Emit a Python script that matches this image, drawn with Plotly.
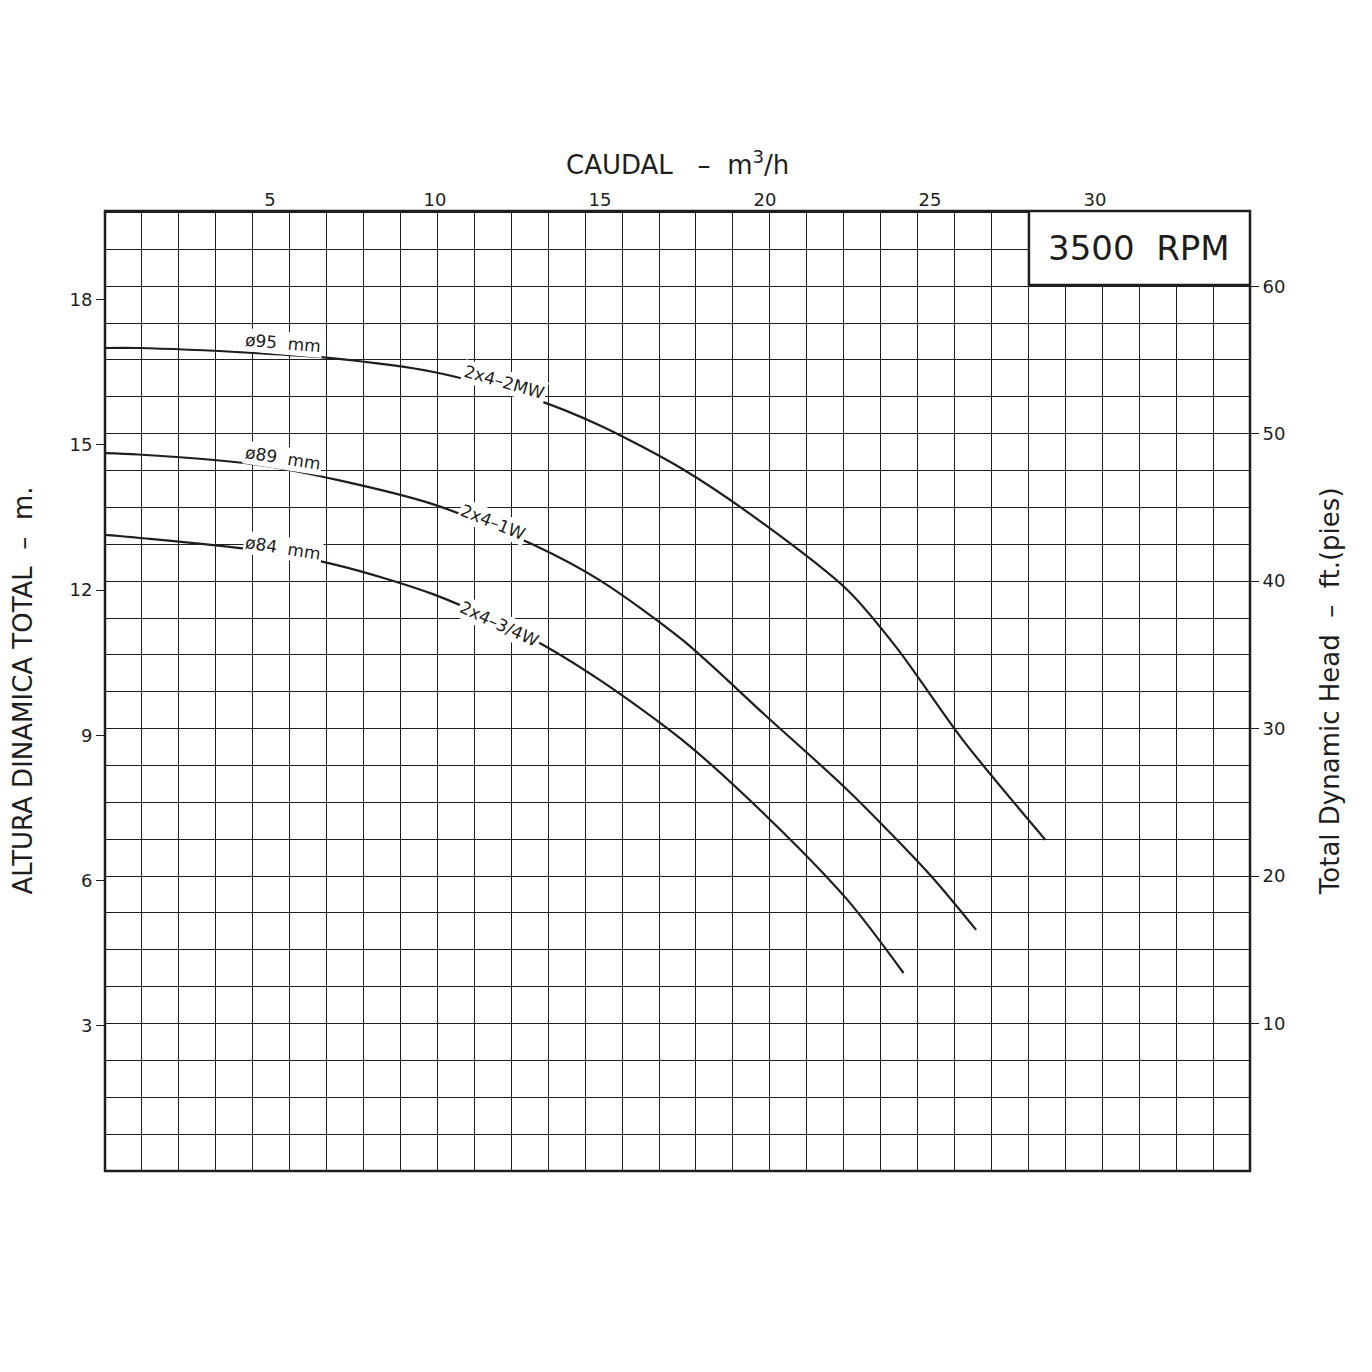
import plotly.graph_objects as go

# flow m3/h, head m
q95 = [0, 1, 4.5, 6.7, 10, 13, 15, 17.5, 20, 22.5, 24, 26, 28.5]
h95 = [17.0, 17.0, 16.9, 16.8, 16.5, 15.95, 15.4, 14.5, 13.35, 12.0, 10.8, 8.9, 6.84]
q89 = [0, 1, 4.5, 7, 10, 13, 15, 17.5, 20, 22.5, 25, 26.4]
h89 = [14.83, 14.8, 14.6, 14.28, 13.76, 12.93, 12.2, 10.97, 9.42, 7.87, 6.12, 4.98]
q84 = [0, 1, 4.5, 7, 10, 13, 15, 17.5, 20, 22.5, 24.2]
h84 = [13.14, 13.08, 12.83, 12.52, 11.9, 10.97, 10.14, 8.9, 7.36, 5.6, 4.09]

m_ticks = [3, 6, 9, 12, 15, 18]
ft_ticks = [10, 20, 30, 40, 50, 60]
q_ticks = [5, 10, 15, 20, 25, 30]

ink = "#1e1e1e"
font = "DejaVu Sans"

fig = go.Figure()
fig.add_trace(go.Scatter(x=[None], y=[None], xaxis="x2", yaxis="y3", showlegend=False))
fig.add_trace(go.Scatter(x=[None], y=[None], xaxis="x", yaxis="y2", showlegend=False))
for q, h in [(q95, h95), (q89, h89), (q84, h84)]:
    fig.add_trace(go.Scatter(x=q, y=h, mode="lines", line=dict(color=ink, width=2.2, shape="spline", smoothing=0.8),
                             showlegend=False, hoverinfo="skip"))

labels = [
    (5.4, 17.1, "ø95  mm", 5), (5.4, 14.73, "ø89  mm", 9), (5.4, 12.87, "ø84  mm", 9),
    (12.1, 16.3, "2x4–2MW", 16), (11.75, 13.4, "2x4–1W", 22), (11.95, 11.3, "2x4–3/4W", 25),
]
ann = [dict(x=x, y=y, text=t, textangle=a, showarrow=False, bgcolor="white",
            font=dict(size=17, color=ink, family=font)) for x, y, t, a in labels]
ann += [
    dict(x=31.35, y=19.07, text="3500  RPM", showarrow=False, font=dict(size=34, color=ink, family=font)),
    dict(x=0.5, y=1.03, xref="paper", yref="paper", xanchor="center", yanchor="bottom",
         text="CAUDAL   –  m<sup>3</sup>/h", showarrow=False, font=dict(size=26, color=ink, family=font)),
    dict(x=-0.072, y=0.5, xref="paper", yref="paper", xanchor="center", text="ALTURA DINAMICA TOTAL  –  m.",
         textangle=-90, showarrow=False, font=dict(size=26, color=ink, family=font)),
    dict(x=1.07, y=0.5, xref="paper", yref="paper", xanchor="center", text="Total Dynamic Head  –  ft.(pies)",
         textangle=-90, showarrow=False, font=dict(size=26, color=ink, family=font)),
]

fig.update_layout(
    width=1372, height=1372, paper_bgcolor="white", plot_bgcolor="white",
    margin=dict(l=97, r=130, t=203, b=209),
    font=dict(family=font, color=ink, size=18),
    xaxis=dict(range=[0, 34.7], side="top", tickvals=q_ticks, showgrid=False, zeroline=False),
    xaxis2=dict(range=[0, 31], dtick=1, overlaying="x", showticklabels=False, showgrid=True,
                gridcolor=ink, gridwidth=1, zeroline=False),
    yaxis=dict(range=[0, 19.83], tickvals=m_ticks, showgrid=False, zeroline=False,
               ticks="outside", ticklen=8, tickcolor=ink),
    yaxis2=dict(range=[0, 65.1], tickvals=ft_ticks, overlaying="y", side="right", showgrid=False,
                zeroline=False, ticks="outside", ticklen=8, tickcolor=ink),
    yaxis3=dict(range=[0, 65.1], dtick=2.5, overlaying="y", showticklabels=False, showgrid=True,
                gridcolor=ink, gridwidth=1, zeroline=False),
    annotations=ann,
    shapes=[
        dict(type="rect", xref="paper", yref="paper", x0=0, x1=1, y0=0, y1=1, line=dict(color=ink, width=2.5)),
        dict(type="rect", xref="x", yref="y", x0=28.0, x1=34.7, y0=18.3, y1=19.83,
             fillcolor="white", line=dict(color=ink, width=2.5)),
    ],
)
fig.write_html("out.html")
